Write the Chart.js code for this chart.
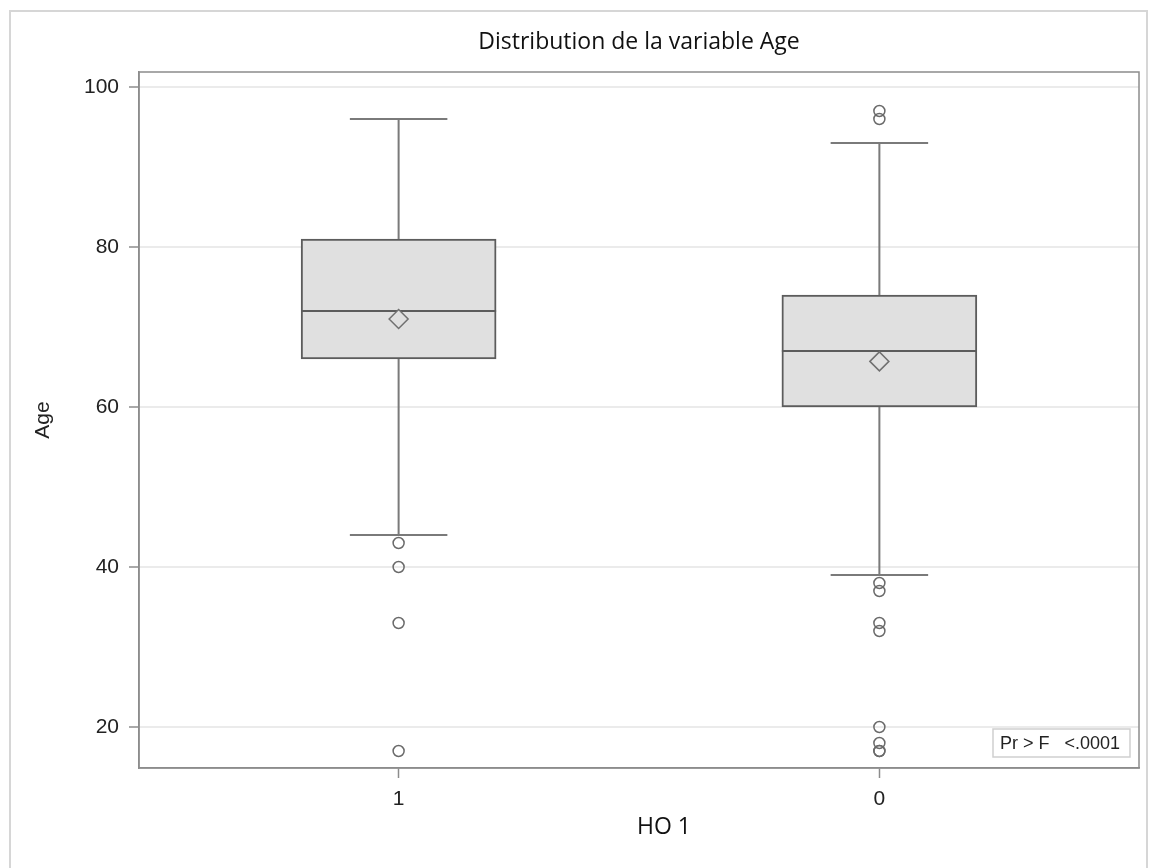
<!DOCTYPE html>
<html>
<head>
<meta charset="utf-8">
<title>Distribution de la variable Age</title>
<script src="https://cdn.jsdelivr.net/npm/chart.js@4.4.0/dist/chart.umd.min.js"></script>
<style>
  html, body { margin: 0; padding: 0; background: #fff; overflow: hidden; }
  #wrap { position: relative; width: 1150px; height: 868px; }
</style>
</head>
<body>
<div id="wrap"><canvas id="chart"></canvas></div>
<script>
try {

// Box plot values for the two groups of "HO 1"
const groups = ['1', '0'];
const groupPos = [0, 1];
const whiskerLow = [44, 39];
const q1 = [66, 60];
const median = [72, 67];
const q3 = [81, 74];
const whiskerHigh = [96, 93];
const means = [71, 65.7];
const outliers = [
  [43, 40, 33, 17],
  [97, 96, 38, 37, 33, 32, 20, 18, 17, 17]
];
const yTicks = [20, 40, 60, 80, 100];
const testLabel = 'Pr > F   <.0001';

const axisColor = '#8c8c8c';
const boxStroke = '#5c5c5c';
const whiskerColor = '#7a7a7a';

// median line + whiskers, drawn just after the boxes
const boxParts = {
  id: 'boxParts',
  afterDatasetDraw(chart, args) {
    if (args.index !== 0) return;
    const ctx = chart.ctx;
    const xs = chart.scales.x, ys = chart.scales.y;
    ctx.save();
    args.meta.data.forEach((bar, i) => {
      const cx = xs.getPixelForValue(groupPos[i]);
      const half = bar.width / 2;
      // whiskers
      ctx.strokeStyle = whiskerColor;
      ctx.lineWidth = 2;
      ctx.beginPath();
      ctx.moveTo(cx, ys.getPixelForValue(q3[i]));
      ctx.lineTo(cx, ys.getPixelForValue(whiskerHigh[i]));
      ctx.moveTo(cx - half / 2, ys.getPixelForValue(whiskerHigh[i]));
      ctx.lineTo(cx + half / 2, ys.getPixelForValue(whiskerHigh[i]));
      ctx.moveTo(cx, ys.getPixelForValue(q1[i]));
      ctx.lineTo(cx, ys.getPixelForValue(whiskerLow[i]));
      ctx.moveTo(cx - half / 2, ys.getPixelForValue(whiskerLow[i]));
      ctx.lineTo(cx + half / 2, ys.getPixelForValue(whiskerLow[i]));
      ctx.stroke();
      // median
      ctx.strokeStyle = boxStroke;
      ctx.beginPath();
      ctx.moveTo(cx - half, ys.getPixelForValue(median[i]));
      ctx.lineTo(cx + half, ys.getPixelForValue(median[i]));
      ctx.stroke();
    });
    ctx.restore();
  }
};

// outer frame, plot frame, inset p-value box, x axis title
const decorations = {
  id: 'decorations',
  beforeDraw(chart) {
    const ctx = chart.ctx;
    ctx.save();
    ctx.strokeStyle = '#d6d6d6';
    ctx.lineWidth = 2;
    ctx.strokeRect(10, 11, 1137, 900);
    ctx.restore();
  },
  afterDraw(chart) {
    const ctx = chart.ctx;
    const ca = chart.chartArea;
    ctx.save();
    ctx.strokeStyle = axisColor;
    ctx.lineWidth = 1.5;
    ctx.strokeRect(ca.left, ca.top, ca.right - ca.left, ca.bottom - ca.top);

    // Pr > F inset
    const bw = 137, bh = 28;
    const bx = ca.right - 9 - bw, by = ca.bottom - 11 - bh;
    ctx.fillStyle = '#fff';
    ctx.fillRect(bx, by, bw, bh);
    ctx.strokeStyle = '#cfcfcf';
    ctx.lineWidth = 1.5;
    ctx.strokeRect(bx, by, bw, bh);
    ctx.fillStyle = '#222';
    ctx.font = '18px "Liberation Sans", Arial, sans-serif';
    ctx.textAlign = 'left';
    ctx.textBaseline = 'middle';
    ctx.fillText(testLabel, bx + 7, by + bh / 2 + 1);

    // x axis title
    ctx.font = '23px "Open Sans", sans-serif';
    ctx.textAlign = 'center';
    ctx.fillStyle = '#111';
    ctx.fillText('HO 1', 664, 827);
    ctx.restore();
  }
};

Chart.defaults.font.family = '"Liberation Sans", Arial, sans-serif';
Chart.defaults.color = '#222';

new Chart(document.getElementById('chart'), {
  type: 'bar',
  data: {
    datasets: [
      {
        type: 'bar',
        data: groupPos.map((x, i) => ({ x: x, y: [q1[i], q3[i]] })),
        backgroundColor: '#e0e0e0',
        borderColor: boxStroke,
        borderWidth: 2,
        borderSkipped: false,
        barThickness: 195,
        order: 3
      },
      {
        type: 'scatter',
        data: groupPos.map((x, i) => ({ x: x, y: means[i] })),
        pointStyle: 'rectRot',
        pointRadius: 9.5,
        backgroundColor: '#e0e0e0',
        borderColor: '#707070',
        borderWidth: 1.5,
        order: 2
      },
      {
        type: 'scatter',
        data: outliers.flatMap((arr, i) => arr.map(v => ({ x: groupPos[i], y: v }))),
        pointStyle: 'circle',
        pointRadius: 5.5,
        backgroundColor: 'rgba(0,0,0,0)',
        borderColor: '#6a6a6a',
        borderWidth: 1.5,
        order: 1
      }
    ]
  },
  options: {
    responsive: true,
    maintainAspectRatio: false,
    animation: false,
    events: [],
    layout: { padding: { left: 0, right: 8, top: 0, bottom: 0 } },
    plugins: {
      legend: { display: false },
      tooltip: { enabled: false },
      title: {
        display: true,
        fullSize: false,
        text: 'Distribution de la variable Age',
        color: '#111',
        font: { family: '"Open Sans", sans-serif', size: 23, weight: 'normal' },
        padding: { top: 29, bottom: 15.4 }
      }
    },
    scales: {
      x: {
        type: 'linear',
        offset: false,
        min: -0.54,
        max: 1.54,
        afterBuildTicks: s => { s.ticks = groupPos.map(v => ({ value: v })); },
        afterFit: s => { s.height = 100; },
        ticks: {
          callback: (v, i) => groups[i],
          font: { size: 21 },
          padding: 9,
          color: '#222'
        },
        grid: {
          offset: false,
          drawOnChartArea: false,
          tickLength: 10,
          tickColor: axisColor,
          tickWidth: 1.5
        },
        border: { color: axisColor, width: 1.5 }
      },
      y: {
        type: 'linear',
        min: 14.875,
        max: 101.875,
        afterBuildTicks: s => { s.ticks = yTicks.map(v => ({ value: v })); },
        afterFit: s => { s.width = 139; },
        ticks: {
          font: { size: 21 },
          padding: 10,
          color: '#222'
        },
        grid: {
          color: '#ebebeb',
          lineWidth: 2,
          tickLength: 10,
          tickColor: axisColor,
          tickWidth: 1.5
        },
        border: { color: axisColor, width: 1.5 },
        title: {
          display: true,
          text: 'Age',
          font: { size: 21 },
          color: '#222',
          padding: { top: 31, bottom: 0 }
        }
      }
    }
  },
  plugins: [boxParts, decorations]
});

} catch (err) {
  console.error(err);
}
</script>
</body>
</html>
